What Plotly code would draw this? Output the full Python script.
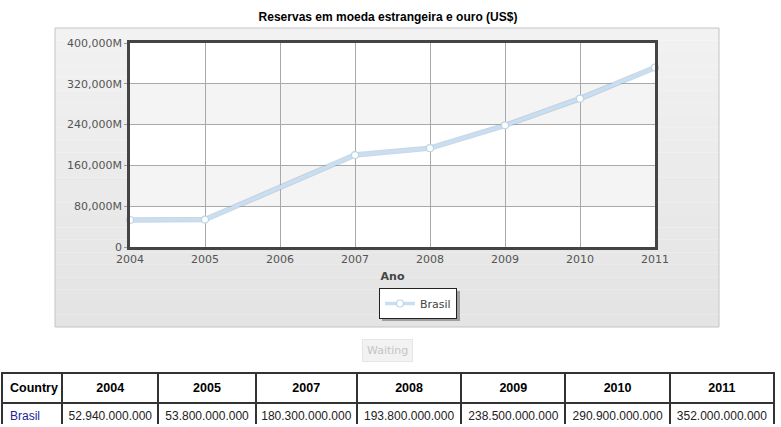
import plotly.graph_objects as go

# data
years = [2004, 2005, 2007, 2008, 2009, 2010, 2011]
reserves = [52940000000, 53800000000, 180300000000, 193800000000,
            238500000000, 290900000000, 352000000000]
country = "Brasil"

x_ticks = [2004, 2005, 2006, 2007, 2008, 2009, 2010, 2011]
y_ticks = [0, 80000, 160000, 240000, 320000, 400000]

W, H = 781, 427


def px(x):
    return x / W


def py(y):
    return 1 - y / H


reserves_m = [v / 1e6 for v in reserves]
y_text = ["0" if t == 0 else f"{t:,}M" for t in y_ticks]

fig = go.Figure()

# line shadow + line
fig.add_trace(
    go.Scatter(
        x=years,
        y=reserves_m,
        mode="lines",
        line=dict(color="rgba(120,155,190,0.4)", width=5.5),
        hoverinfo="skip",
        showlegend=False,
        cliponaxis=False
    )
)

fig.add_trace(
    go.Scatter(
        x=years,
        y=reserves_m,
        mode="lines+markers",
        name=country,
        line=dict(color="#c9def0", width=3.5),
        marker=dict(size=7, color="white",
                    line=dict(color="#bcd5ea", width=1.2)),
        cliponaxis=False
    )
)

# table
header_vals = ["<b>Country</b>"] + [f"<b>{y}</b>" for y in years]
cell_vals = [[country]] + [[f"{v:,}".replace(",", ".")] for v in reserves]

fig.add_trace(
    go.Table(
        domain=dict(x=[px(2), px(774)], y=[py(424), py(373)]),
        columnwidth=[60, 96, 97, 101, 104, 104, 104, 104],
        header=dict(
            values=header_vals,
            align=["left"] + ["center"] * len(years),
            fill_color="white",
            line=dict(color="#333333", width=2),
            font=dict(family="Arial, Liberation Sans", size=12.5, color="black"),
            height=23
        ),
        cells=dict(
            values=cell_vals,
            align=["left"] + ["center"] * len(years),
            fill_color="white",
            line=dict(color="#333333", width=2),
            font=dict(family="Arial, Liberation Sans", size=12,
                      color=["#22229a"] + ["#222222"] * len(years)),
            height=23
        )
    )
)

shapes = []

# panel background with a soft vertical gradient
top, bottom = 28, 327
steps = 24
for i in range(steps):
    y0 = top + (bottom - top) * i / steps
    y1 = top + (bottom - top) * (i + 1) / steps
    c = int(242 - 14 * i / (steps - 1))
    shapes.append(dict(
        type="rect", xref="paper", yref="paper",
        x0=px(55), x1=px(719), y0=py(y1), y1=py(y0),
        fillcolor=f"rgb({c},{c},{c})", line_width=0, layer="below"
    ))
shapes.append(dict(
    type="rect", xref="paper", yref="paper",
    x0=px(55), x1=px(719), y0=py(327), y1=py(28),
    line=dict(color="#c4c4c4", width=1), layer="below"
))

# white plot area + alternating bands
shapes.append(dict(
    type="rect", xref="x domain", yref="y domain",
    x0=0, x1=1, y0=0, y1=1,
    fillcolor="white", line_width=0, layer="below"
))
for i in range(1, len(y_ticks) - 1, 2):
    shapes.append(dict(
        type="rect", xref="x domain", yref="y",
        x0=0, x1=1, y0=y_ticks[i], y1=y_ticks[i + 1],
        fillcolor="#f4f4f4", line_width=0, layer="below"
    ))

# legend shadow
shapes.append(dict(
    type="rect", xref="paper", yref="paper",
    x0=px(382), x1=px(460), y0=py(321), y1=py(291),
    fillcolor="rgba(0,0,0,0.3)", line_width=0, layer="below"
))

fig.update_layout(
    template="none",
    width=W,
    height=H,
    autosize=False,
    margin=dict(l=0, r=0, t=0, b=0, pad=0, autoexpand=False),
    paper_bgcolor="white",
    plot_bgcolor="rgba(0,0,0,0)",
    title=dict(
        text="<b>Reservas em moeda estrangeira e ouro (US$)</b>",
        x=px(388), xanchor="center",
        y=py(17), yanchor="middle",
        font=dict(family="Arial, Liberation Sans", size=12, color="black")
    ),
    font=dict(family="DejaVu Sans, Verdana", size=11, color="#555555"),
    xaxis=dict(
        domain=[px(130), px(655)],
        range=[2004, 2011],
        tickvals=x_ticks,
        ticktext=[str(t) for t in x_ticks],
        showgrid=True,
        gridcolor="#a9a9a9",
        gridwidth=1,
        zeroline=False,
        showline=True,
        mirror=True,
        linecolor="#444444",
        linewidth=2.5,
        ticks="",
        automargin=False,
        tickfont=dict(size=11, color="#555555"),
        title=dict(text="<b>Ano</b>", standoff=8,
                   font=dict(size=11, color="#444444")),
        fixedrange=True
    ),
    yaxis=dict(
        domain=[py(247), py(43)],
        range=[0, 400000],
        tickvals=y_ticks,
        ticktext=y_text,
        showgrid=True,
        gridcolor="#a9a9a9",
        gridwidth=1,
        zeroline=False,
        showline=True,
        mirror=True,
        linecolor="#444444",
        linewidth=2.5,
        ticks="outside",
        ticklen=3,
        tickcolor="#999999",
        automargin=False,
        tickfont=dict(size=11, color="#555555"),
        fixedrange=True
    ),
    legend=dict(
        x=px(418), xanchor="center",
        y=py(303.5), yanchor="middle",
        bgcolor="white",
        bordercolor="#222222",
        borderwidth=1,
        itemwidth=30,
        font=dict(size=11, color="#444444")
    ),
    shapes=shapes,
    annotations=[
        dict(
            text="Waiting", xref="paper", yref="paper",
            x=px(387), y=py(350), xanchor="center", yanchor="middle",
            showarrow=False,
            font=dict(family="DejaVu Sans, Verdana", size=11, color="#c4c4c4"),
            bgcolor="#f2f2f2", bordercolor="#e6e6e6", borderwidth=1,
            borderpad=4
        )
    ]
)

fig.write_html(
    "out.html",
    config=dict(displayModeBar=False),
    post_script="document.body.style.margin='0';"
)
